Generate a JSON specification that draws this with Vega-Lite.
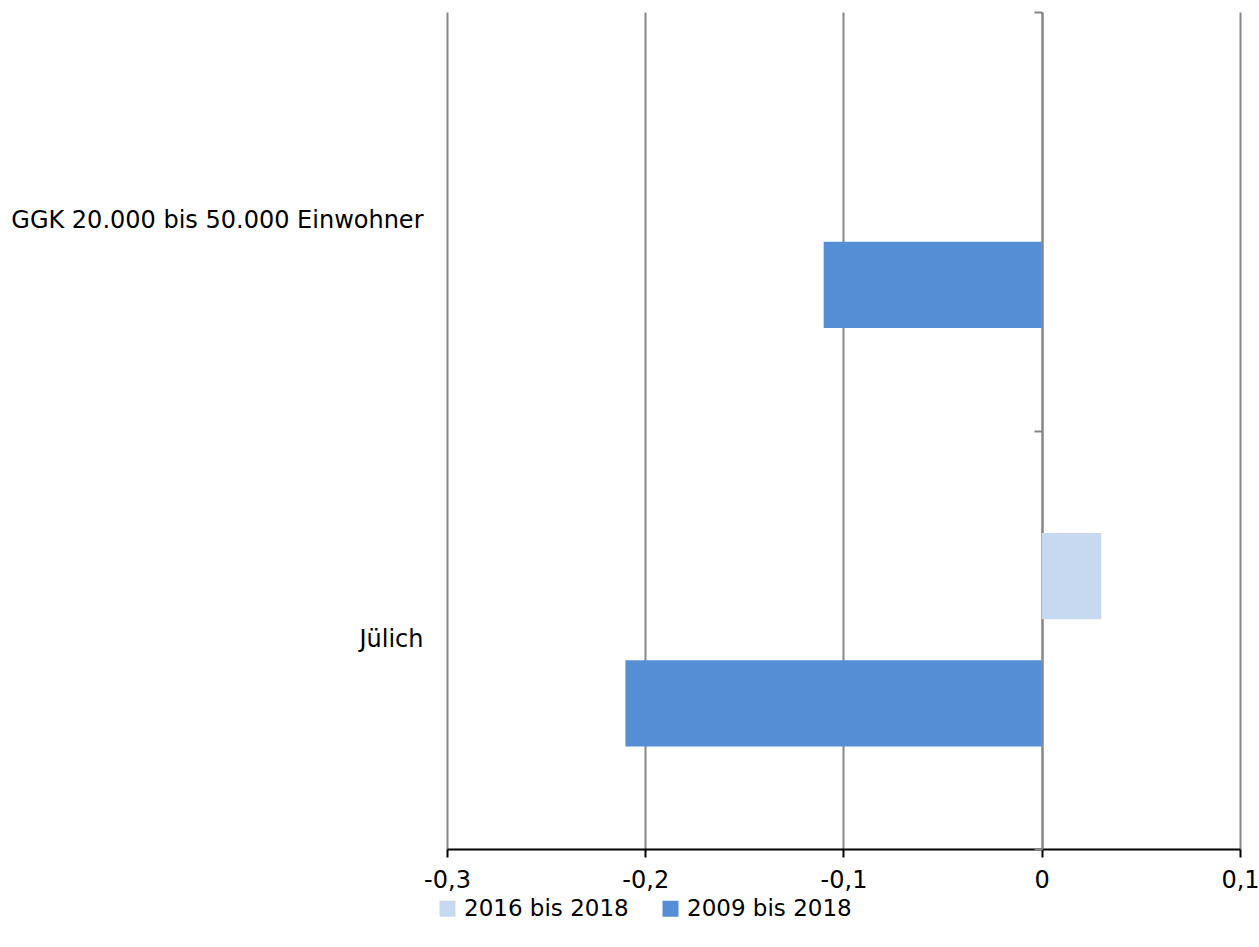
{
  "$schema": "https://vega.github.io/schema/vega-lite/v6.json",
  "width": 793,
  "height": 837,
  "autosize": {"type": "none"},
  "padding": {"left": 447, "top": 12, "right": 19, "bottom": 98},
  "background": "white",
  "config": {
    "view": {"stroke": null},
    "font": "DejaVu Sans"
  },
  "data": {
    "values": [
      {"region": "GGK 20.000 bis 50.000 Einwohner", "period": "2016 bis 2018", "value": 0},
      {"region": "GGK 20.000 bis 50.000 Einwohner", "period": "2009 bis 2018", "value": -0.11},
      {"region": "Jülich", "period": "2016 bis 2018", "value": 0.03},
      {"region": "Jülich", "period": "2009 bis 2018", "value": -0.21}
    ]
  },
  "layer": [
    {
      "mark": {"type": "bar"},
      "encoding": {
        "y": {
          "field": "region",
          "type": "nominal",
          "sort": ["GGK 20.000 bis 50.000 Einwohner", "Jülich"],
          "scale": {"paddingInner": 0, "paddingOuter": 0},
          "axis": {
            "title": null,
            "domain": false,
            "ticks": false,
            "grid": false,
            "labelFontSize": 24,
            "labelColor": "#000000",
            "labelPadding": 24,
            "labelLimit": 600,
            "labelFont": "DejaVu Sans"
          }
        },
        "yOffset": {
          "field": "period",
          "type": "nominal",
          "sort": ["2016 bis 2018", "2009 bis 2018"],
          "scale": {"paddingInner": 0.323, "paddingOuter": 0.807}
        },
        "x": {
          "field": "value",
          "type": "quantitative",
          "scale": {"domain": [-0.3, 0.1], "nice": false, "zero": false},
          "axis": {
            "title": null,
            "values": [-0.3, -0.2, -0.1, 0, 0.1],
            "labelExpr": "replace(replace(format(datum.value, '.1~f'), '.', ','), '−', '-')",
            "labelFlush": false,
            "labelOverlap": false,
            "domainColor": "#000000",
            "domainWidth": 2,
            "tickColor": "#000000",
            "tickWidth": 2,
            "tickSize": 8,
            "grid": true,
            "gridColor": "#868686",
            "gridWidth": 2,
            "labelFontSize": 24,
            "labelColor": "#000000",
            "labelPadding": 11,
            "labelFont": "DejaVu Sans"
          }
        },
        "color": {
          "field": "period",
          "type": "nominal",
          "sort": ["2016 bis 2018", "2009 bis 2018"],
          "scale": {"domain": ["2016 bis 2018", "2009 bis 2018"], "range": ["#c6d9f1", "#558ed5"]},
          "legend": {
            "title": null,
            "orient": "none",
            "direction": "horizontal",
            "padding": 0,
            "legendX": -11,
            "legendY": 885,
            "symbolType": "square",
            "symbolSize": 256,
            "symbolStrokeWidth": 0,
            "labelFontSize": 23,
            "labelColor": "#000000",
            "labelFont": "DejaVu Sans",
            "labelOffset": 5,
            "labelLimit": 400,
            "columnPadding": 30
          }
        }
      }
    },
    {
      "mark": {"type": "rule", "opacity": 0},
      "encoding": {
        "y": {
          "field": "region",
          "type": "nominal",
          "sort": ["GGK 20.000 bis 50.000 Einwohner", "Jülich"],
          "axis": {
            "title": null,
            "orient": "left",
            "offset": -595,
            "labels": false,
            "grid": false,
            "domain": true,
            "domainColor": "#868686",
            "domainWidth": 2,
            "ticks": true,
            "tickColor": "#868686",
            "tickWidth": 2,
            "tickSize": 8,
            "tickBand": "extent"
          }
        }
      }
    }
  ],
  "resolve": {"axis": {"y": "independent"}}
}
